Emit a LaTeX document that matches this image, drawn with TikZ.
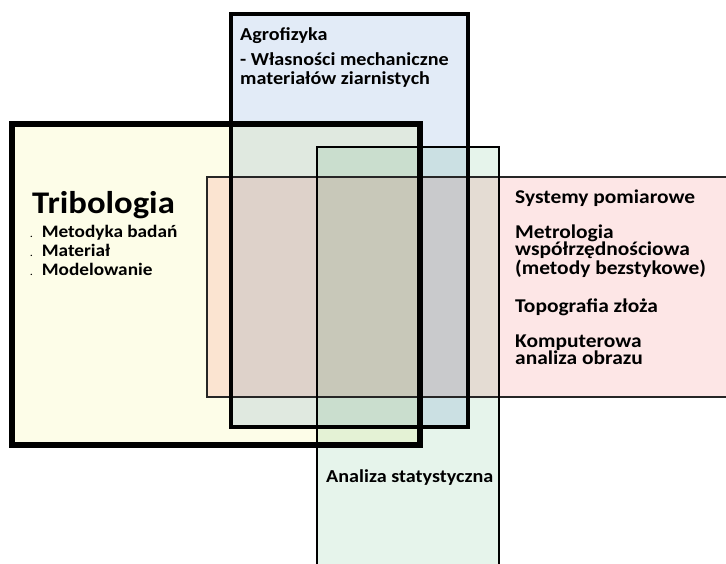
\documentclass[tikz,border=0pt]{standalone}
\usepackage{fontspec}
\setmainfont{Carlito}[FakeStretch=1.1]
\usepackage{xcolor}

\definecolor{tribofill}{RGB}{253,253,232}
\definecolor{agrofill}{RGB}{226,235,247}
\definecolor{statfill}{RGB}{230,244,235}
\definecolor{pomiarfill}{RGB}{253,230,230}

\tikzset{
  txt/.style={anchor=base west, align=left, inner sep=0pt,
    font=\bfseries\fontsize{19.5}{17.5}\selectfont},
  bigtxt/.style={anchor=base west, inner sep=0pt,
    font=\bfseries\fontsize{31.5}{31.5}\selectfont},
}
\newcommand{\kropka}{{\fontsize{9}{9}\selectfont.}\hspace{9pt}}

\begin{document}
\begin{tikzpicture}[x=1pt,y=-1pt]
 \useasboundingbox (0,0) rectangle (726,563);
 \clip (0,0) rectangle (726,563);
 % fills
 \begin{scope}[blend group=multiply]
  \fill[tribofill] (12,124) rectangle (420,445);
  \fill[agrofill] (231,14) rectangle (468,427);
  \fill[statfill] (317,147) rectangle (499,580);
  \fill[pomiarfill] (207,177) rectangle (740,397);
 \end{scope}
 % borders
 \draw[black!85,line width=1.2pt] (207,177) rectangle (740,397);
 \draw[black,line width=2pt] (317,147) rectangle (499,580);
 \draw[black,line width=3.5pt] (231,14) rectangle (468,427);
 \draw[black,line width=5.5pt] (12,124) rectangle (420,445);

 % texts (multi-line nodes sit on their last baseline)
 \node[bigtxt] (tribo) at (32,213) {Tribologia};
 \node[txt,font=\bfseries\fontsize{17.5}{19}\selectfont] (tribolist) at (30,275)
   {\kropka Metodyka badań\\ \kropka Materiał\\ \kropka Modelowanie};

 \node[txt,font=\bfseries\fontsize{18.3}{19}\selectfont] (agro) at (240,84)
   {Agrofizyka\\[6pt] - Własności mechaniczne\\ materiałów ziarnistych};

 \node[txt] (pomiar) at (515,364.5) {Systemy pomiarowe\\[17.5pt]
   Metrologia\\ współrzędnościowa\\ (metody bezstykowe)\\[20pt]
   Topografia złoża\\[17.5pt]
   Komputerowa\\ analiza obrazu};

 \node[txt,font=\bfseries\fontsize{18.3}{17.5}\selectfont] (stat) at (326,482)
   {Analiza statystyczna};
\end{tikzpicture}
\end{document}
